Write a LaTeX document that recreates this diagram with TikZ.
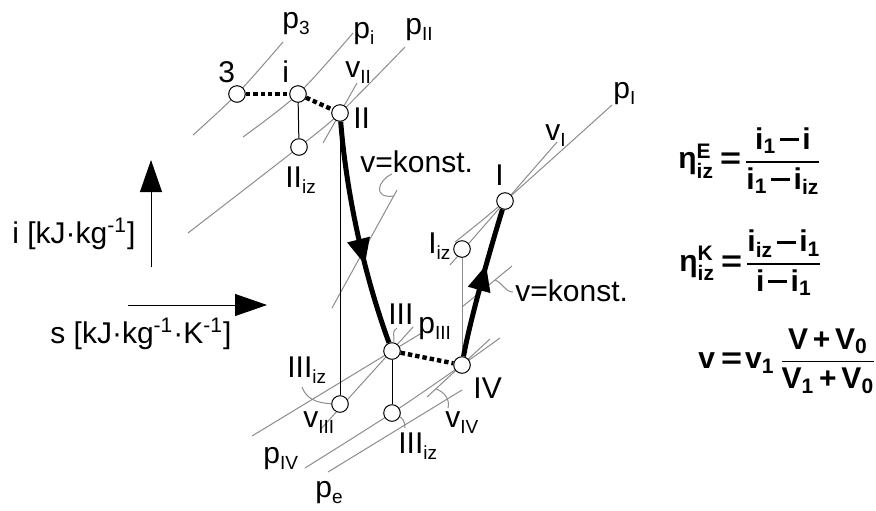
\documentclass[tikz,border=0pt]{standalone}
\usepackage{amsmath}
\usepackage{fontspec}
\setmainfont{Liberation Sans}
\usetikzlibrary{arrows.meta, backgrounds, decorations.markings}
\newcommand{\ftx}[1]{\text{#1}}
\newcommand{\lsb}[1]{\raisebox{-3.2pt}{\fontsize{9.5}{10}\selectfont #1}}
\newcommand{\mns}{\hspace{1.8pt}\rule[4pt]{9.5pt}{1.6pt}\hspace{1.8pt}}
\newcommand{\eqs}{\hspace{3pt}\scalebox{1.2}[1]{=}\hspace{1.5pt}}

\begin{document}
\begin{tikzpicture}[x=0.5pt, y=-0.5pt, font=\fontsize{15}{18}\selectfont,
    pt/.style={circle, draw, fill=white, inner sep=0pt, minimum size=8.3pt, line width=0.5pt},
    lbl/.style={anchor=base west, inner sep=0pt},
    iso/.style={black!45, line width=0.5pt},
    lead/.style={black!45, line width=0.5pt},
    vert/.style={line width=0.5pt},
    dots/.style={line width=2.2pt, dash pattern=on 2.2pt off 1.5pt},
    proc/.style={line width=2.5pt, postaction={decorate, decoration={markings, mark=at position #1 with {\arrow{Triangle[length=13pt,width=11pt]}}}}},
    axis/.style={line width=0.5pt, -{Triangle[length=16pt,width=11pt]}},
    frm/.style={anchor=west, inner sep=0pt, font=\fontsize{15}{18}\selectfont\bfseries}]
    \useasboundingbox (0,0) rectangle (876,510);

    \node[pt] (n3) at (237,94) {};
    \node[pt] (ni) at (298,94) {};
    \node[pt] (nII) at (340,113) {};
    \node[pt] (nIIiz) at (299,147) {};
    \node[pt] (nIII) at (392,351) {};
    \node[pt] (nIIIizA) at (340,404) {};
    \node[pt] (nIIIizB) at (392,413) {};
    \node[pt] (nIV) at (462,365) {};
    \node[pt] (nI) at (505,201) {};
    \node[pt] (nIiz) at (462,249) {};

    \begin{scope}[on background layer]
        \draw[iso] plot[smooth] coordinates {(193,135) (n3.center) (283,42)};
        \draw[iso] plot[smooth] coordinates {(243,137) (ni.center) (353,33)};
        \draw[iso] plot[smooth] coordinates {(188,233) (nIIiz.center) (nII.center) (405,47)};
        \draw[iso] (323,143) -- (357,83);
        \draw[iso] (332,308) -- (397,190);
        \draw[iso] plot[smooth] coordinates {(455,242) (nI.center) (612,105)};
        \draw[iso] (450,265) -- (557,142);
        \draw[iso] (462,307) -- (512,266);
        \draw[iso] (252,436) -- (nIII.center) -- (420,334);
        \draw[iso] (320,430) -- (413,327);
        \draw[iso] plot[smooth] coordinates {(305,468) (nIIIizB.center) (nIV.center) (500,338)};
        \draw[iso] (328,472) -- (462,390);
        \draw[iso] (427,397) -- (490,339);
    \end{scope}

    \draw[dots] (n3) -- (ni);
    \draw[dots] (ni) -- (nII);
    \draw[dots] (nIII) -- (nIV);
    \draw[vert] (ni) -- (nIIiz);
    \draw[vert] (nII) -- (nIIIizA);
    \draw[vert] (nIII) -- (nIIIizB);
    \draw[iso] (nIiz) -- (nIV);
    \draw[proc=0.64] (nII) .. controls (347,200) and (366,280) .. (nIII);
    \draw[proc=0.62] (nIV) .. controls (470,320) and (490,250) .. (nI);

    \node[lbl] (l3) at (218,82) {3};
    \node[lbl] (li) at (282,82) {i};
    \node[lbl] (lII) at (353,128) {II};
    \node[lbl] (lIIiz) at (285,187) {II\lsb{iz}};
    \node[lbl] (lI) at (495,185) {I};
    \node[lbl] (lIiz) at (428,253) {I\lsb{iz}};
    \node[lbl] (lIII) at (388,324) {III};
    \node[lbl] (lpIII) at (418,333) {p\lsb{III}};
    \node[lbl] (lIV) at (473,398) {IV};
    \node[lbl] (lIIIizA) at (287,377) {III\lsb{iz}};
    \node[lbl] (lIIIizB) at (398,453) {III\lsb{iz}};
    \node[lbl] (lvIII) at (303,427) {v\lsb{III}};
    \node[lbl] (lvIV) at (445,427) {v\lsb{IV}};
    \node[lbl] (lpIV) at (263,463) {p\lsb{IV}};
    \node[lbl] (lpe) at (315,497) {p\lsb{e}};
    \node[lbl] (lp3) at (282,28) {p\lsb{3}};
    \node[lbl] (lpi) at (353,38) {p\lsb{i}};
    \node[lbl] (lpII) at (405,34) {p\lsb{II}};
    \node[lbl] (lvII) at (345,77) {v\lsb{II}};
    \node[lbl] (lvk1) at (360,172) {v=konst.};
    \node[lbl] (lvI) at (545,140) {v\lsb{I}};
    \node[lbl] (lpI) at (613,98) {p\lsb{I}};
    \node[lbl] (lvk2) at (515,301) {v=konst.};
    \node[lbl] (lis) at (12,243) {i [kJ·kg\textsuperscript{-1}]};
    \node[lbl] (lss) at (50,343) {s [kJ·kg\textsuperscript{-1}·K\textsuperscript{-1}]};

    \coordinate (k1a) at (392,174);
    \coordinate (k1b) at (394,196);
    \coordinate (k2a) at (513,292);
    \coordinate (k2b) at (495,280);
    \coordinate (kIVa) at (448,408);
    \coordinate (kIVb) at (436,389);
    \coordinate (kA) at (302,387);
    \coordinate (kB) at (405,428);
    \coordinate (kIII) at (397,328);
    \draw[lead] (k1a) .. controls (378,180) and (372,199) .. (k1b);
    \draw[lead] (k2a) .. controls (505,292) and (503,283) .. (k2b);
    \draw[lead] (kIVa) .. controls (450,400) and (445,392) .. (kIVb);
    \draw[lead] (kA) .. controls (306,398) and (315,403) .. (nIIIizA);
    \draw[lead] (nIIIizB) .. controls (402,418) and (405,421) .. (kB);
    \draw[lead] (kIII) .. controls (391,331) and (395,337) .. (nIII);

    \coordinate (iax0) at (151,267);
    \coordinate (iax1) at (151,160);
    \coordinate (sax0) at (128,305);
    \coordinate (sax1) at (267,305);
    \draw[axis] (iax0) -- (iax1);
    \draw[axis] (sax0) -- (sax1);

    \node[frm] (fE) at (678,161) {$\ftx{η}^{\ftx{E}}_{\ftx{iz}}\eqs\genfrac{}{}{0.8pt}{0}{\ftx{i}_{\ftx{1}}\mns\ftx{i}}{\ftx{i}_{\ftx{1}}\mns\ftx{i}_{\ftx{iz}}}$};
    \node[frm] (fK) at (679,263) {$\ftx{η}^{\ftx{K}}_{\ftx{iz}}\eqs\genfrac{}{}{0.8pt}{0}{\ftx{i}_{\ftx{iz}}\mns\ftx{i}_{\ftx{1}}}{\ftx{i}\mns\ftx{i}_{\ftx{1}}}$};
    \node[frm] (fv) at (698,361) {$\ftx{v}\eqs\ftx{v}_{\ftx{1}}\,\genfrac{}{}{0.8pt}{0}{\ftx{V}\,\ftx{+}\,\ftx{V}_{\ftx{0}}}{\ftx{V}_{\ftx{1}}\,\ftx{+}\,\ftx{V}_{\ftx{0}}}$};
\end{tikzpicture}
\end{document}
